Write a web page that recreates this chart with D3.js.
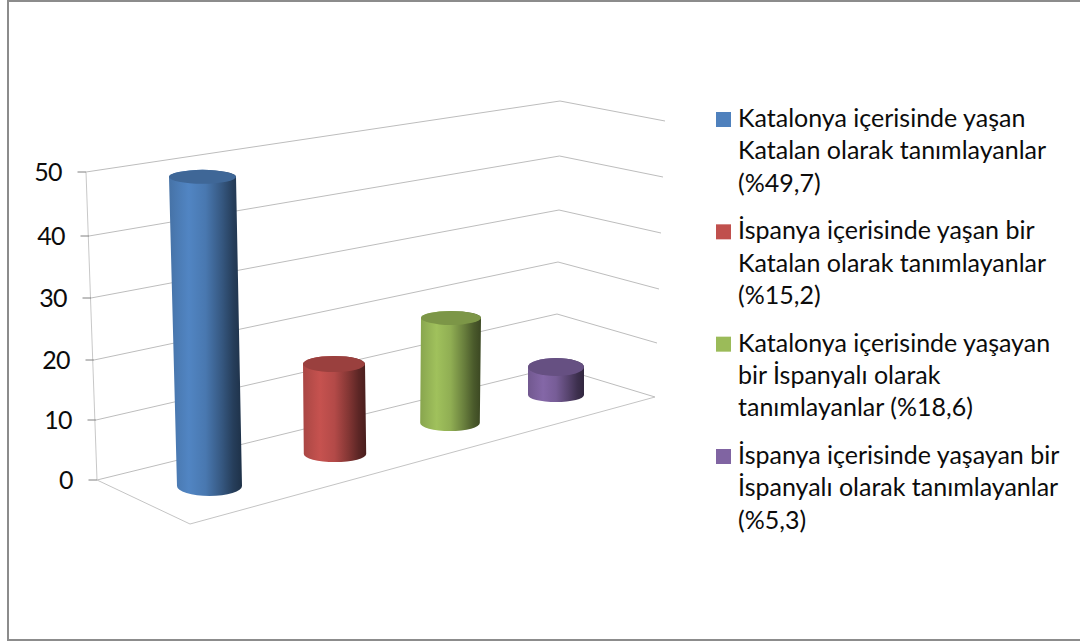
<!DOCTYPE html>
<html lang="tr">
<head>
<meta charset="utf-8">
<script src="https://cdn.jsdelivr.net/npm/d3@7"></script>
<style>
html,body{margin:0;padding:0;background:#fff}
svg{display:block}
text{font-family:Lato,"Open Sans",sans-serif;fill:#0c0c0c}
</style>
</head>
<body>
<svg id="c" width="1080" height="641"></svg>
<script>
// DATA
const categories = ["Katalonya yaşan Katalan","İspanya yaşan Katalan","Katalonya yaşayan İspanyalı","İspanya yaşayan İspanyalı"];
const values = [49.7, 15.2, 18.6, 5.3];
const colors = ["#4f81bd", "#c0504d", "#9bbb59", "#8064a2"];
const axisTicks = [0, 10, 20, 30, 40, 50];
const legendLines = [
  ["Katalonya içerisinde yaşan", "Katalan olarak tanımlayanlar", "(%49,7)"],
  ["İspanya içerisinde yaşan bir", "Katalan olarak tanımlayanlar", "(%15,2)"],
  ["Katalonya içerisinde yaşayan", "bir İspanyalı olarak", "tanımlayanlar (%18,6)"],
  ["İspanya içerisinde yaşayan bir", "İspanyalı olarak tanımlayanlar", "(%5,3)"]
];

// SCALES (perspective of the 3-D box, one piecewise scale per wall edge)
const leftX   = d3.scaleLinear(axisTicks, [97, 96, 94, 91, 89, 86]);
const leftY   = d3.scaleLinear(axisTicks, [480, 420, 360, 298, 236, 172]);
const backX   = d3.scaleLinear(axisTicks, [556, 557, 558, 559, 559.5, 560]);
const backY   = d3.scaleLinear(axisTicks, [367, 314, 262, 210, 156, 101]);
const sideX   = d3.scaleLinear(axisTicks, [655, 657, 659, 661, 663, 665]);
const sideY   = d3.scaleLinear(axisTicks, [397, 343, 289, 233, 177, 121]);
const floorFront = [190, 524];

const pos = d3.scalePoint(categories, [0, 3]);
const baseX  = d3.scaleLinear([0, 1, 2, 3], [209.5, 335, 450, 556]);
const baseY  = d3.scaleLinear([0, 1, 2, 3], [486, 454, 423, 395]);
const topX   = d3.scaleLinear([0, 1, 2, 3], [202.5, 334, 451, 556]);
const unit   = d3.scaleLinear([0, 1, 2, 3], [6.22, 5.92, 5.65, 5.28]);
const baseRx = d3.scaleLinear([0, 1, 2, 3], [32.5, 31.2, 29.8, 28]);
const topRx  = d3.scaleLinear([0, 1, 2, 3], [33.5, 31, 30, 28]);
const baseRy = d3.scaleLinear([0, 1, 2, 3], [10, 8, 8, 7]);
const topRy  = d3.scaleLinear([0, 1, 2, 3], [7, 8, 7, 9]);

const svg = d3.select("#c");
const defs = svg.append("defs");

// frame
svg.append("rect").attr("x", 8).attr("y", 1).attr("width", 1080).attr("height", 639)
  .attr("fill", "#fff").attr("stroke", "#8c8c8c").attr("stroke-width", 2);

// gridlines
const grid = svg.append("g").attr("fill", "none").attr("stroke", "#bdbdbd").attr("stroke-width", 1);
grid.selectAll("path.g").data(axisTicks).join("path").attr("class", "g")
  .attr("d", t => d3.line()([[leftX(t), leftY(t)], [backX(t), backY(t)], [sideX(t), sideY(t)]]));
// floor and left edges
grid.append("path").attr("stroke", "#c4c4c4")
  .attr("d", d3.line()([[leftX(0), leftY(0)], floorFront, [sideX(0), sideY(0)]]));
grid.append("path").attr("stroke", "#c8c8c8")
  .attr("d", d3.line()([[leftX(50), leftY(50)], [leftX(0), leftY(0)]]));

// ticks and labels
const tick = svg.append("g");
tick.selectAll("line").data(axisTicks).join("line")
  .attr("x1", t => leftX(t) - 8.5).attr("x2", t => leftX(t))
  .attr("y1", t => leftY(t)).attr("y2", t => leftY(t))
  .attr("stroke", "#808080").attr("stroke-width", 1);
tick.selectAll("text").data(axisTicks).join("text")
  .attr("x", t => leftX(t) - 24).attr("y", t => leftY(t) + 9)
  .attr("text-anchor", "end").attr("font-size", 25).attr("letter-spacing", -0.6)
  .text(d => d);

// cylinders
const shade = [[0, 0.88], [0.12, 0.95], [0.27, 1.03], [0.5, 0.93], [0.72, 0.68], [0.88, 0.48], [1, 0.38]];
categories.forEach((c, i) => {
  const g = defs.append("linearGradient").attr("id", "cyl" + i);
  const base = d3.rgb(colors[i]);
  shade.forEach(([o, k]) => g.append("stop").attr("offset", o)
    .attr("stop-color", d3.rgb(base.r * k, base.g * k, base.b * k).formatHex()));
});
const bars = svg.append("g").selectAll("g").data(categories).join("g");
const geo = (c, i) => {
  const p = pos(c);
  const by = baseY(p), ty = by - values[i] * unit(p);
  return {bx: baseX(p), by, tx: topX(p), ty, brx: baseRx(p), trx: topRx(p), bry: baseRy(p), try_: topRy(p)};
};
bars.append("path").attr("fill", (c, i) => `url(#cyl${i})`)
  .attr("d", (c, i) => {
    const g = geo(c, i);
    return `M${g.tx - g.trx},${g.ty} L${g.bx - g.brx},${g.by}` +
      ` A${g.brx},${g.bry} 0 0 0 ${g.bx + g.brx},${g.by}` +
      ` L${g.tx + g.trx},${g.ty}` +
      ` A${g.trx},${g.try_} 0 0 0 ${g.tx - g.trx},${g.ty} Z`;
  });
bars.append("ellipse")
  .attr("cx", (c, i) => geo(c, i).tx).attr("cy", (c, i) => geo(c, i).ty)
  .attr("rx", (c, i) => geo(c, i).trx).attr("ry", (c, i) => geo(c, i).try_)
  .attr("fill", (c, i) => {
    const b = d3.rgb(colors[i]);
    return d3.rgb(b.r * 0.8, b.g * 0.8, b.b * 0.8).formatHex();
  });

// legend
const legendY = d3.scaleLinear([0, 3], [127, 464]);
const lg = svg.append("g").selectAll("g").data(legendLines).join("g")
  .attr("transform", (d, i) => `translate(716,${legendY(i)})`);
lg.append("rect").attr("x", 0).attr("y", -15).attr("width", 15).attr("height", 15)
  .attr("fill", (d, i) => colors[i]);
lg.selectAll("text").data(d => d).join("text")
  .attr("x", 22).attr("y", (d, i) => i * 32.4)
  .attr("font-size", 25)
  .text(d => d);
</script>
</body>
</html>
